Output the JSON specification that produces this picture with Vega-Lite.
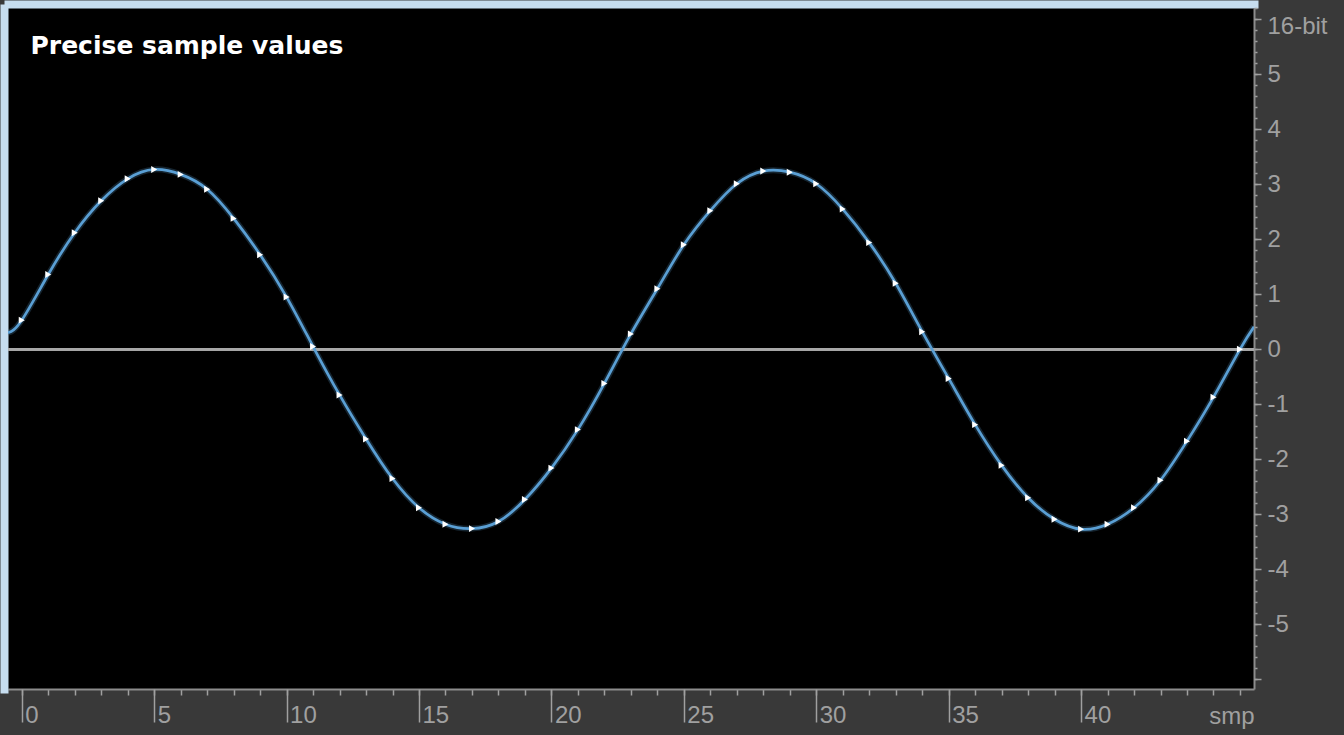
{
  "$schema": "https://vega.github.io/schema/vega-lite/v6.json",
  "width": 1246,
  "height": 681,
  "autosize": {"type": "none"},
  "padding": {"left": 8, "top": 8, "right": 90, "bottom": 46},
  "background": "#393939",
  "config": {"view": {"fill": "#000000", "stroke": null}, "font": "Liberation Sans"},
  "data": {"values": [
    {"sample": -0.52, "value": 0.30},
    {"sample": 0, "value": 0.53},
    {"sample": 1, "value": 1.36},
    {"sample": 2, "value": 2.12},
    {"sample": 3, "value": 2.70},
    {"sample": 4, "value": 3.10},
    {"sample": 5, "value": 3.27},
    {"sample": 6, "value": 3.18},
    {"sample": 7, "value": 2.91},
    {"sample": 8, "value": 2.38},
    {"sample": 9, "value": 1.72},
    {"sample": 10, "value": 0.95},
    {"sample": 11, "value": 0.05},
    {"sample": 12, "value": -0.83},
    {"sample": 13, "value": -1.63},
    {"sample": 14, "value": -2.35},
    {"sample": 15, "value": -2.88},
    {"sample": 16, "value": -3.18},
    {"sample": 17, "value": -3.26},
    {"sample": 18, "value": -3.13},
    {"sample": 19, "value": -2.73},
    {"sample": 20, "value": -2.16},
    {"sample": 21, "value": -1.46},
    {"sample": 22, "value": -0.62},
    {"sample": 23, "value": 0.28},
    {"sample": 24, "value": 1.10},
    {"sample": 25, "value": 1.90},
    {"sample": 26, "value": 2.52},
    {"sample": 27, "value": 3.01},
    {"sample": 28, "value": 3.24},
    {"sample": 29, "value": 3.22},
    {"sample": 30, "value": 3.01},
    {"sample": 31, "value": 2.55},
    {"sample": 32, "value": 1.94},
    {"sample": 33, "value": 1.20},
    {"sample": 34, "value": 0.32},
    {"sample": 35, "value": -0.53},
    {"sample": 36, "value": -1.37},
    {"sample": 37, "value": -2.11},
    {"sample": 38, "value": -2.70},
    {"sample": 39, "value": -3.09},
    {"sample": 40, "value": -3.27},
    {"sample": 41, "value": -3.18},
    {"sample": 42, "value": -2.88},
    {"sample": 43, "value": -2.38},
    {"sample": 44, "value": -1.67},
    {"sample": 45, "value": -0.87},
    {"sample": 46, "value": 0.00},
    {"sample": 46.53, "value": 0.41}
  ]},
  "resolve": {"axis": {"x": "independent", "y": "independent"}},
  "layer": [
    {
      "mark": {"type": "line", "interpolate": "natural", "color": "#5fa3d6", "strokeWidth": 6, "opacity": 0.22, "clip": true},
      "encoding": {
        "x": {"field": "sample", "type": "quantitative",
          "scale": {"domain": [-0.52, 46.53], "nice": false, "zero": false},
          "axis": {"orient": "top", "offset": 4, "domain": true, "domainColor": "#c6ddef", "domainWidth": 8, "domainCap": "square",
            "ticks": false, "labels": false, "grid": false,
            "title": "Precise sample values", "titleX": 22, "titleY": 49, "titleAlign": "left", "titleBaseline": "alphabetic",
            "titleAngle": 0, "titleColor": "#ffffff", "titleFont": "DejaVu Sans", "titleFontSize": 25, "titleFontWeight": "bold"}},
        "y": {"field": "value", "type": "quantitative",
          "scale": {"domain": [-6.176, 6.205], "nice": false, "zero": false},
          "axis": {"orient": "left", "offset": 4, "domain": true, "domainColor": "#c6ddef", "domainWidth": 8, "domainCap": "square",
            "ticks": false, "labels": false, "grid": false, "title": null}}
      }
    },
    {
      "mark": {"type": "rule", "color": "#a8a8a8", "strokeWidth": 2},
      "encoding": {"y": {"datum": 0, "type": "quantitative", "axis": null}}
    },
    {
      "mark": {"type": "line", "interpolate": "natural", "color": "#5a9fd4", "strokeWidth": 2.7, "clip": true},
      "encoding": {
        "x": {"field": "sample", "type": "quantitative",
          "scale": {"domain": [-0.52, 46.53], "nice": false, "zero": false},
          "axis": {"orient": "bottom", "values": [0,1,2,3,4,5,6,7,8,9,10,11,12,13,14,15,16,17,18,19,20,21,22,23,24,25,26,27,28,29,30,31,32,33,34,35,36,37,38,39,40,41,42,43,44,45,46],
            "tickSize": 6, "tickWidth": 1.5, "tickColor": "#a0a0a0", "labels": false, "grid": false,
            "domain": true, "domainColor": "#8c8c8c", "domainWidth": 2, "title": null}},
        "y": {"field": "value", "type": "quantitative",
          "scale": {"domain": [-6.176, 6.205], "nice": false, "zero": false},
          "axis": {"orient": "right", "values": [-6,-5.8,-5.6,-5.4,-5.2,-5,-4.8,-4.6,-4.4,-4.2,-4,-3.8,-3.6,-3.4,-3.2,-3,-2.8,-2.6,-2.4,-2.2,-2,-1.8,-1.6,-1.4,-1.2,-1,-0.8,-0.6,-0.4,-0.2,0,0.2,0.4,0.6,0.8,1,1.2,1.4,1.6,1.8,2,2.2,2.4,2.6,2.8,3,3.2,3.4,3.6,3.8,4,4.2,4.4,4.6,4.8,5,5.2,5.4,5.6,5.8,6,6.2],
            "tickSize": 3, "tickWidth": 1.5, "tickColor": "#a0a0a0", "labels": false, "grid": false,
            "domain": true, "domainColor": "#8c8c8c", "domainWidth": 2, "title": null}}
      }
    },
    {
      "transform": [{"filter": "datum.sample >= 0 && datum.sample <= 46"}],
      "mark": {"type": "point", "shape": "triangle-right", "filled": true, "color": "#ffffff", "opacity": 1, "size": 48},
      "encoding": {
        "x": {"field": "sample", "type": "quantitative",
          "scale": {"domain": [-0.52, 46.53], "nice": false, "zero": false},
          "axis": {"orient": "bottom", "values": [0,5,10,15,20,25,30,35,40],
            "tickSize": 33, "tickWidth": 1.5, "tickColor": "#a0a0a0", "grid": false, "domain": false,
            "labelAlign": "left", "labelBaseline": "alphabetic", "labelPadding": 0, "labelOffset": 3,
            "labelFlush": false, "labelOverlap": false, "labelBound": false,
            "labelFont": "Liberation Sans", "labelFontSize": 24, "labelColor": "#a0a0a0",
            "title": "smp", "titleX": 1246, "titleY": 34, "titleAlign": "right", "titleBaseline": "alphabetic", "titleAngle": 0,
            "titleFont": "Liberation Sans", "titleFontSize": 24, "titleFontWeight": "normal", "titleColor": "#a0a0a0"}},
        "y": {"field": "value", "type": "quantitative",
          "scale": {"domain": [-6.176, 6.205], "nice": false, "zero": false},
          "axis": {"orient": "right", "values": [-6,-5,-4,-3,-2,-1,0,1,2,3,4,5,6],
            "tickSize": 7, "tickWidth": 1.5, "tickColor": "#a0a0a0", "grid": false, "domain": false,
            "labelAlign": "left", "labelBaseline": "middle", "labelPadding": 6,
            "labelFlush": false, "labelOverlap": false, "labelBound": false,
            "labelExpr": "abs(datum.value) == 6 ? '' : '' + datum.value",
            "labelFont": "Liberation Sans", "labelFontSize": 24, "labelColor": "#a0a0a0",
            "title": "16-bit", "titleX": 13, "titleY": 18, "titleAlign": "left", "titleBaseline": "middle", "titleAngle": 0,
            "titleFont": "Liberation Sans", "titleFontSize": 24, "titleFontWeight": "normal", "titleColor": "#a0a0a0"}}
      }
    }
  ]
}
